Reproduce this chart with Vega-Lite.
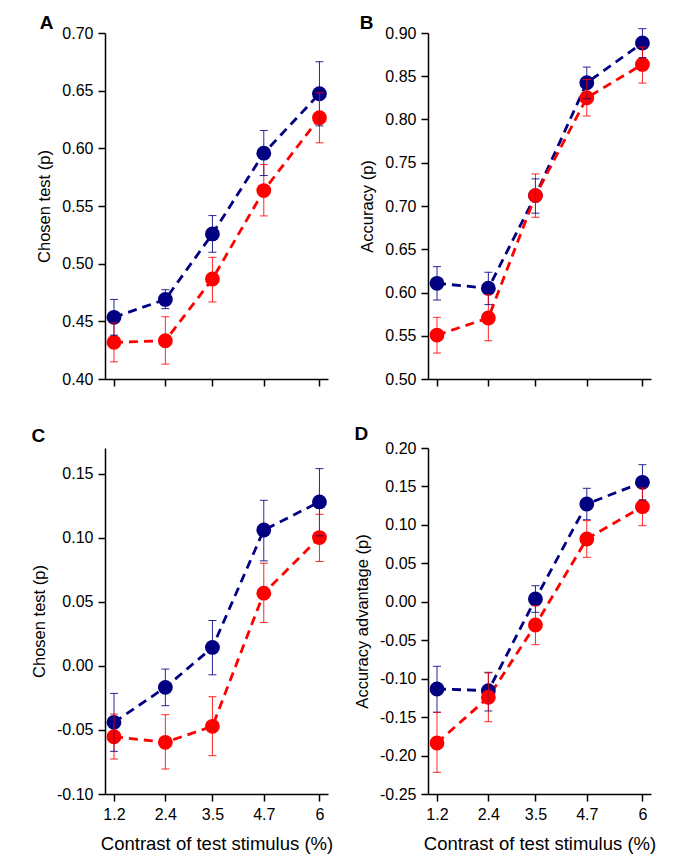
{
  "$schema": "https://vega.github.io/schema/vega-lite/v6.json",
  "padding": {"left": 31, "top": 14, "right": 5, "bottom": 5},
  "datasets": {
    "pts": [
      {"panel": "A", "group": "g1", "contrast": 1.2, "m": 0.4535, "lo": 0.438, "hi": 0.469},
      {"panel": "A", "group": "g1", "contrast": 2.4, "m": 0.469, "lo": 0.461, "hi": 0.4774},
      {"panel": "A", "group": "g1", "contrast": 3.5, "m": 0.5258, "lo": 0.5099, "hi": 0.5417},
      {"panel": "A", "group": "g1", "contrast": 4.7, "m": 0.5958, "lo": 0.5764, "hi": 0.6155},
      {"panel": "A", "group": "g1", "contrast": 6, "m": 0.6473, "lo": 0.6195, "hi": 0.6751},
      {"panel": "A", "group": "g2", "contrast": 1.2, "m": 0.4318, "lo": 0.4149, "hi": 0.4487},
      {"panel": "A", "group": "g2", "contrast": 2.4, "m": 0.4332, "lo": 0.4129, "hi": 0.454},
      {"panel": "A", "group": "g2", "contrast": 3.5, "m": 0.4867, "lo": 0.4668, "hi": 0.5055},
      {"panel": "A", "group": "g2", "contrast": 4.7, "m": 0.5634, "lo": 0.5414, "hi": 0.5859},
      {"panel": "A", "group": "g2", "contrast": 6, "m": 0.6265, "lo": 0.6048, "hi": 0.6482},
      {"panel": "B", "group": "g1", "contrast": 1.2, "m": 0.6106, "lo": 0.5913, "hi": 0.6299},
      {"panel": "B", "group": "g1", "contrast": 2.4, "m": 0.6049, "lo": 0.586, "hi": 0.6234},
      {"panel": "B", "group": "g1", "contrast": 3.5, "m": 0.712, "lo": 0.6917, "hi": 0.7314},
      {"panel": "B", "group": "g1", "contrast": 4.7, "m": 0.8425, "lo": 0.824, "hi": 0.8606},
      {"panel": "B", "group": "g1", "contrast": 6, "m": 0.8884, "lo": 0.8714, "hi": 0.905},
      {"panel": "B", "group": "g2", "contrast": 1.2, "m": 0.5508, "lo": 0.53, "hi": 0.5713},
      {"panel": "B", "group": "g2", "contrast": 2.4, "m": 0.5705, "lo": 0.5442, "hi": 0.5975},
      {"panel": "B", "group": "g2", "contrast": 3.5, "m": 0.712, "lo": 0.687, "hi": 0.7371},
      {"panel": "B", "group": "g2", "contrast": 4.7, "m": 0.8251, "lo": 0.804, "hi": 0.8463},
      {"panel": "B", "group": "g2", "contrast": 6, "m": 0.8637, "lo": 0.8421, "hi": 0.8838},
      {"panel": "C", "group": "g1", "contrast": 1.2, "m": -0.0441, "lo": -0.0667, "hi": -0.0215},
      {"panel": "C", "group": "g1", "contrast": 2.4, "m": -0.0168, "lo": -0.0311, "hi": -0.0025},
      {"panel": "C", "group": "g1", "contrast": 3.5, "m": 0.0144, "lo": -0.007, "hi": 0.0354},
      {"panel": "C", "group": "g1", "contrast": 4.7, "m": 0.106, "lo": 0.0819, "hi": 0.1292},
      {"panel": "C", "group": "g1", "contrast": 6, "m": 0.1279, "lo": 0.1014, "hi": 0.1539},
      {"panel": "C", "group": "g2", "contrast": 1.2, "m": -0.0553, "lo": -0.0727, "hi": -0.0376},
      {"panel": "C", "group": "g2", "contrast": 2.4, "m": -0.0597, "lo": -0.0805, "hi": -0.0381},
      {"panel": "C", "group": "g2", "contrast": 3.5, "m": -0.0472, "lo": -0.0701, "hi": -0.0241},
      {"panel": "C", "group": "g2", "contrast": 4.7, "m": 0.0567, "lo": 0.0339, "hi": 0.0801},
      {"panel": "C", "group": "g2", "contrast": 6, "m": 0.1001, "lo": 0.0814, "hi": 0.1183},
      {"panel": "D", "group": "g1", "contrast": 1.2, "m": -0.1134, "lo": -0.1437, "hi": -0.0839},
      {"panel": "D", "group": "g1", "contrast": 2.4, "m": -0.1156, "lo": -0.142, "hi": -0.0917},
      {"panel": "D", "group": "g1", "contrast": 3.5, "m": 0.0036, "lo": -0.0137, "hi": 0.0209},
      {"panel": "D", "group": "g1", "contrast": 4.7, "m": 0.1272, "lo": 0.1067, "hi": 0.1476},
      {"panel": "D", "group": "g1", "contrast": 6, "m": 0.1554, "lo": 0.1325, "hi": 0.1783},
      {"panel": "D", "group": "g2", "contrast": 1.2, "m": -0.1837, "lo": -0.2218, "hi": -0.1437},
      {"panel": "D", "group": "g2", "contrast": 2.4, "m": -0.1242, "lo": -0.156, "hi": -0.0926},
      {"panel": "D", "group": "g2", "contrast": 3.5, "m": -0.0302, "lo": -0.0558, "hi": -0.0051},
      {"panel": "D", "group": "g2", "contrast": 4.7, "m": 0.0817, "lo": 0.0578, "hi": 0.1055},
      {"panel": "D", "group": "g2", "contrast": 6, "m": 0.1237, "lo": 0.099, "hi": 0.148}
    ]
  },
  "data": {"name": "pts"},
  "columns": 2,
  "bounds": "flush",
  "spacing": {"row": 69, "column": 100},
  "concat": [
    {
      "title": {"text": "A", "dy": 10, "dx": 3},
      "width": 223,
      "height": 346,
      "transform": [{"filter": "datum.panel == 'A'"}],
      "encoding": {
        "x": {"field": "contrast", "type": "quantitative", "scale": {"domain": [0.99, 6.2], "nice": false, "zero": false}, "axis": {"values": [1.2, 2.4, 3.5, 4.7, 6], "labels": false, "title": null}},
        "color": {"field": "group", "type": "nominal", "scale": {"domain": ["g1", "g2"], "range": ["#000080", "#ff0000"]}, "legend": null},
        "y": {"field": "m", "type": "quantitative", "title": "Chosen test (p)", "scale": {"domain": [0.4, 0.7], "nice": false, "zero": false}, "axis": {"values": [0.4, 0.45, 0.5, 0.55, 0.6, 0.65, 0.7], "format": ".2f"}}
      },
      "layer": [
        {"mark": {"type": "line", "strokeDash": [9, 6], "strokeWidth": 2.8}},
        {"mark": {"type": "point", "shape": "circle", "filled": true, "size": 220, "opacity": 1}},
        {"mark": {"type": "rule", "strokeWidth": 1, "opacity": 0.85}, "encoding": {"y": {"field": "lo", "type": "quantitative", "title": "Chosen test (p)"}, "y2": {"field": "hi"}}},
        {"transform": [{"fold": ["lo", "hi"], "as": ["end", "v"]}], "mark": {"type": "tick", "orient": "horizontal", "size": 8, "thickness": 1, "opacity": 0.85}, "encoding": {"y": {"field": "v", "type": "quantitative", "title": "Chosen test (p)"}}}
      ]
    },
    {
      "title": {"text": "B", "dy": 10},
      "width": 223,
      "height": 346,
      "transform": [{"filter": "datum.panel == 'B'"}],
      "encoding": {
        "x": {"field": "contrast", "type": "quantitative", "scale": {"domain": [0.99, 6.2], "nice": false, "zero": false}, "axis": {"values": [1.2, 2.4, 3.5, 4.7, 6], "labels": false, "title": null}},
        "color": {"field": "group", "type": "nominal", "scale": {"domain": ["g1", "g2"], "range": ["#000080", "#ff0000"]}, "legend": null},
        "y": {"field": "m", "type": "quantitative", "title": "Accuracy (p)", "scale": {"domain": [0.5, 0.9], "nice": false, "zero": false}, "axis": {"values": [0.5, 0.55, 0.6, 0.65, 0.7, 0.75, 0.8, 0.85, 0.9], "format": ".2f"}}
      },
      "layer": [
        {"mark": {"type": "line", "strokeDash": [9, 6], "strokeWidth": 2.8}},
        {"mark": {"type": "point", "shape": "circle", "filled": true, "size": 220, "opacity": 1}},
        {"mark": {"type": "rule", "strokeWidth": 1, "opacity": 0.85}, "encoding": {"y": {"field": "lo", "type": "quantitative", "title": "Accuracy (p)"}, "y2": {"field": "hi"}}},
        {"transform": [{"fold": ["lo", "hi"], "as": ["end", "v"]}], "mark": {"type": "tick", "orient": "horizontal", "size": 8, "thickness": 1, "opacity": 0.85}, "encoding": {"y": {"field": "v", "type": "quantitative", "title": "Accuracy (p)"}}}
      ]
    },
    {
      "title": {"text": "C"},
      "width": 223,
      "height": 346,
      "transform": [{"filter": "datum.panel == 'C'"}],
      "encoding": {
        "x": {"field": "contrast", "type": "quantitative", "title": "Contrast of test stimulus (%)", "scale": {"domain": [0.99, 6.2], "nice": false, "zero": false}, "axis": {"values": [1.2, 2.4, 3.5, 4.7, 6], "format": ".1~f"}},
        "color": {"field": "group", "type": "nominal", "scale": {"domain": ["g1", "g2"], "range": ["#000080", "#ff0000"]}, "legend": null},
        "y": {"field": "m", "type": "quantitative", "title": "Chosen test (p)", "scale": {"domain": [-0.1, 0.17], "nice": false, "zero": false}, "axis": {"values": [-0.1, -0.05, 0, 0.05, 0.1, 0.15], "format": ".2f"}}
      },
      "layer": [
        {"mark": {"type": "line", "strokeDash": [9, 6], "strokeWidth": 2.8}},
        {"mark": {"type": "point", "shape": "circle", "filled": true, "size": 220, "opacity": 1}},
        {"mark": {"type": "rule", "strokeWidth": 1, "opacity": 0.85}, "encoding": {"y": {"field": "lo", "type": "quantitative", "title": "Chosen test (p)"}, "y2": {"field": "hi"}}},
        {"transform": [{"fold": ["lo", "hi"], "as": ["end", "v"]}], "mark": {"type": "tick", "orient": "horizontal", "size": 8, "thickness": 1, "opacity": 0.85}, "encoding": {"y": {"field": "v", "type": "quantitative", "title": "Chosen test (p)"}}}
      ]
    },
    {
      "title": {"text": "D", "dy": 6},
      "width": 223,
      "height": 346,
      "transform": [{"filter": "datum.panel == 'D'"}],
      "encoding": {
        "x": {"field": "contrast", "type": "quantitative", "title": "Contrast of test stimulus (%)", "scale": {"domain": [0.99, 6.2], "nice": false, "zero": false}, "axis": {"values": [1.2, 2.4, 3.5, 4.7, 6], "format": ".1~f"}},
        "color": {"field": "group", "type": "nominal", "scale": {"domain": ["g1", "g2"], "range": ["#000080", "#ff0000"]}, "legend": null},
        "y": {"field": "m", "type": "quantitative", "title": "Accuracy advantage (p)", "scale": {"domain": [-0.25, 0.2], "nice": false, "zero": false}, "axis": {"values": [-0.25, -0.2, -0.15, -0.1, -0.05, 0, 0.05, 0.1, 0.15, 0.2], "format": ".2f"}}
      },
      "layer": [
        {"mark": {"type": "line", "strokeDash": [9, 6], "strokeWidth": 2.8}},
        {"mark": {"type": "point", "shape": "circle", "filled": true, "size": 220, "opacity": 1}},
        {"mark": {"type": "rule", "strokeWidth": 1, "opacity": 0.85}, "encoding": {"y": {"field": "lo", "type": "quantitative", "title": "Accuracy advantage (p)"}, "y2": {"field": "hi"}}},
        {"transform": [{"fold": ["lo", "hi"], "as": ["end", "v"]}], "mark": {"type": "tick", "orient": "horizontal", "size": 8, "thickness": 1, "opacity": 0.85}, "encoding": {"y": {"field": "v", "type": "quantitative", "title": "Accuracy advantage (p)"}}}
      ]
    }
  ],
  "config": {
    "font": "Liberation Sans",
    "view": {"stroke": null},
    "locale": {"number": {"decimal": ".", "thousands": ",", "grouping": [3], "currency": ["$", ""], "minus": "-"}},
    "axis": {"grid": false, "domainColor": "#000000", "domainWidth": 1.5, "tickColor": "#000000", "tickWidth": 1.5, "tickSize": 7, "labelFontSize": 16, "labelColor": "#000000", "labelPadding": 5, "titleFontSize": 16, "titleFontWeight": "normal", "titleColor": "#000000", "titlePadding": 9},
    "axisY": {"titleFontSize": 16.5, "labelFontSize": 16},
    "axisX": {"titleFontSize": 18.5, "titlePadding": 12, "labelFontSize": 16},
    "title": {"fontSize": 19, "fontWeight": "bold", "anchor": "start", "frame": "bounds", "color": "#000000", "offset": 2}
  }
}
